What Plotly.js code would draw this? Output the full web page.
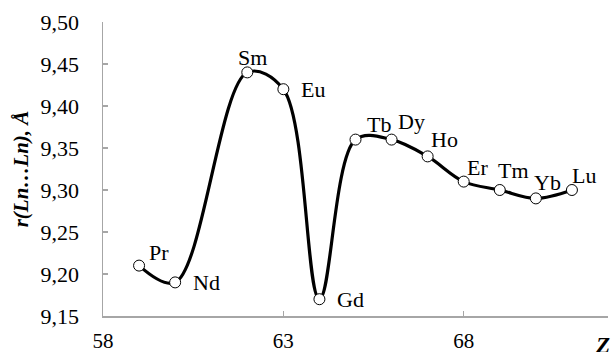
<!DOCTYPE html>
<html>
<head>
<meta charset="utf-8">
<script src="https://cdn.plot.ly/plotly-3.0.1.min.js"></script>
<style>html,body{margin:0;padding:0;background:#fff;overflow:hidden}#chart{width:614px;height:352px}</style>
</head>
<body>
<div id="chart"></div>
<script>
const elements = ["Pr","Nd","Sm","Eu","Gd","Tb","Dy","Ho","Er","Tm","Yb","Lu"];
const zValues = [59,60,62,63,64,65,66,67,68,69,70,71];
const rValues = [9.21,9.19,9.44,9.42,9.17,9.36,9.36,9.34,9.31,9.30,9.29,9.30];
const yTickVals = [9.15,9.20,9.25,9.30,9.35,9.40,9.45,9.50];
const yTickText = ["9,15","9,20","9,25","9,30","9,35","9,40","9,45","9,50"];
const xTickVals = [58,63,68];
const xTickText = ["58","63","68"];

// label offsets in pixels (style only)
const labelShift = [[20,13],[31,0],[5,15],[30,0],[31,0],[23,15],[20,18],[17,17],[14,14],[14,20],[12,16],[12,15]];

const serif = "Liberation Serif";
const axisColor = "#a6a6a6";

const trace = {
  x: zValues, y: rValues, type: "scatter", mode: "lines+markers",
  line: {shape: "spline", smoothing: 1, color: "#000", width: 3.2},
  marker: {symbol: "circle", size: 11, color: "#fff", line: {color: "#000", width: 1}},
  hoverinfo: "skip", cliponaxis: false
};

const annotations = elements.map((el, i) => ({
  x: zValues[i], y: rValues[i], xref: "x", yref: "y", text: el, showarrow: false,
  xshift: labelShift[i][0], yshift: labelShift[i][1],
  font: {family: serif, size: 22, color: "#000"}
}));
annotations.push({
  xref: "paper", yref: "paper", x: 0.99, y: -0.1, xanchor: "center", yanchor: "middle",
  text: "<b><i>Z</i></b>", showarrow: false,
  font: {family: serif, size: 23, color: "#000"}
});
annotations.push({
  xref: "paper", yref: "paper", x: 0.635, y: 1.07, xanchor: "center", yanchor: "bottom",
  text: "p", showarrow: false,
  font: {family: serif, size: 30, color: "#000"}
});

const layout = {
  width: 614, height: 352,
  margin: {l: 103, r: 6, t: 22, b: 36},
  paper_bgcolor: "#fff", plot_bgcolor: "#fff",
  showlegend: false,
  font: {family: serif, color: "#000"},
  xaxis: {
    range: [58, 72], tickvals: xTickVals, ticktext: xTickText,
    showgrid: false, zeroline: false, showline: true, linecolor: axisColor, linewidth: 1.5,
    ticks: "inside", ticklen: 5, tickcolor: axisColor, tickwidth: 1.5,
    tickfont: {family: serif, size: 21, color: "#000"}, ticklabelstandoff: 5
  },
  yaxis: {
    range: [9.15, 9.50], tickvals: yTickVals, ticktext: yTickText,
    showgrid: false, zeroline: false, showline: true, linecolor: axisColor, linewidth: 1.5,
    ticks: "inside", ticklen: 5, tickcolor: axisColor, tickwidth: 1.5,
    tickfont: {family: serif, size: 22, color: "#000"}, ticklabelstandoff: 18,
    title: {text: "<b><i>r(Ln…Ln), Å</i></b>", font: {family: serif, size: 21, color: "#000"}, standoff: 6}
  },
  annotations: annotations
};

Plotly.newPlot("chart", [trace], layout, {displayModeBar: false, staticPlot: true});
</script>
</body>
</html>
